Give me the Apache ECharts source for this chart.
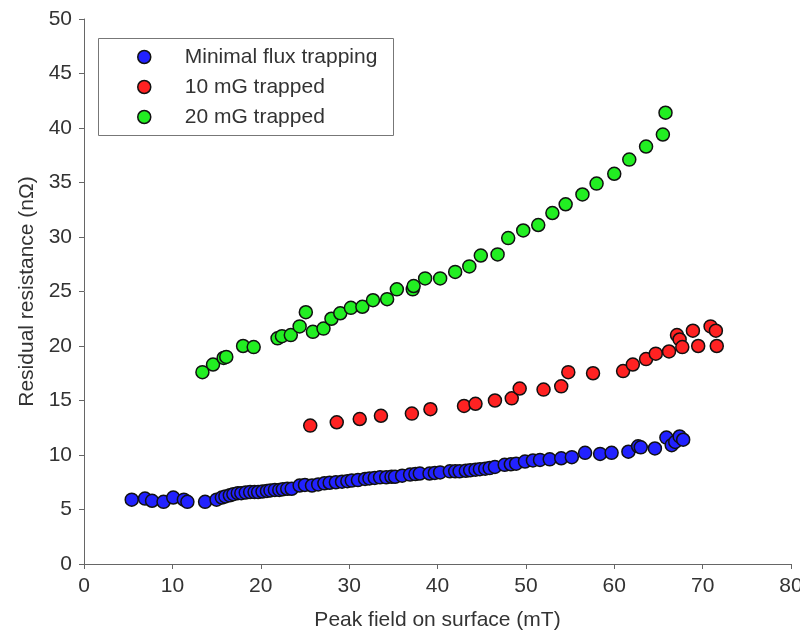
<!DOCTYPE html>
<html>
<head>
<meta charset="utf-8">
<script src="https://cdn.jsdelivr.net/npm/echarts@6/dist/echarts.min.js"></script>
<style>
  html, body { margin: 0; padding: 0; background: #fff; }
  #chart { width: 800px; height: 633px; }
</style>
</head>
<body>
<div id="chart"></div>
<script>
// values: [peak field (mT), residual resistance (nOhm)]
const minimalFlux = [
  [5.4, 5.9], [6.9, 6.0], [7.7, 5.8], [9.0, 5.7], [10.1, 6.1], [11.3, 5.9], [11.7, 5.7],
  [13.7, 5.7], [15.0, 5.9], [15.6, 6.1], [16.0, 6.2], [16.5, 6.3], [16.9, 6.4], [17.4, 6.5],
  [17.8, 6.5], [18.3, 6.55], [18.8, 6.6], [19.3, 6.6], [19.7, 6.6], [20.2, 6.65], [20.7, 6.7],
  [21.1, 6.75], [21.6, 6.8], [22.1, 6.8], [22.5, 6.85], [23.0, 6.9], [23.5, 6.9], [24.4, 7.2],
  [25.0, 7.25], [25.8, 7.2], [26.5, 7.3], [27.2, 7.4], [27.8, 7.45], [28.5, 7.5], [29.2, 7.55],
  [29.8, 7.6], [30.3, 7.65], [31.0, 7.7], [31.8, 7.8], [32.3, 7.85], [32.9, 7.9], [33.5, 7.95],
  [34.2, 7.95], [34.8, 8.0], [35.2, 8.0], [36.0, 8.1], [36.9, 8.2], [37.5, 8.25], [38.0, 8.3],
  [39.1, 8.3], [39.7, 8.35], [40.3, 8.4], [41.4, 8.5], [42.0, 8.5], [42.5, 8.5], [43.2, 8.55],
  [43.7, 8.6], [44.3, 8.65], [44.8, 8.7], [45.4, 8.75], [45.9, 8.8], [46.5, 8.9], [47.6, 9.1],
  [48.3, 9.15], [48.9, 9.2], [49.9, 9.4], [50.8, 9.5], [51.6, 9.55], [52.7, 9.6], [54.0, 9.7],
  [55.2, 9.8], [56.7, 10.2], [58.4, 10.1], [59.7, 10.2], [61.6, 10.3], [62.7, 10.8], [63.0, 10.7],
  [64.6, 10.6], [65.9, 11.6], [66.5, 10.9], [66.9, 11.2], [67.4, 11.7], [67.8, 11.4]
]

const trapped10 = [
  [25.6, 12.7], [28.6, 13.0], [31.2, 13.3], [33.6, 13.6], [37.1, 13.8], [39.2, 14.2],
  [43.0, 14.5], [44.3, 14.7], [46.5, 15.0], [48.4, 15.2], [49.3, 16.1], [52.0, 16.0],
  [54.0, 16.3], [54.8, 17.6], [57.6, 17.5], [61.0, 17.7], [62.1, 18.3], [63.6, 18.8],
  [64.7, 19.3], [66.2, 19.5], [67.1, 21.0], [67.4, 20.6], [67.7, 19.9], [68.9, 21.4],
  [69.5, 20.0], [70.9, 21.8], [71.5, 21.4], [71.6, 20.0]
]

const trapped20 = [
  [13.4, 17.6], [14.6, 18.3], [15.8, 18.9], [16.1, 19.0], [18.0, 20.0], [19.2, 19.9],
  [21.9, 20.7], [22.4, 20.9], [23.4, 21.0], [24.4, 21.8], [25.1, 23.1], [25.9, 21.3],
  [27.1, 21.6], [28.0, 22.5], [29.0, 23.0], [30.2, 23.5], [31.5, 23.6], [32.7, 24.2],
  [34.3, 24.3], [35.4, 25.2], [37.2, 25.2], [37.3, 25.5], [38.6, 26.2], [40.3, 26.2],
  [42.0, 26.8], [43.6, 27.3], [44.9, 28.3], [46.8, 28.4], [48.0, 29.9], [49.7, 30.6],
  [51.4, 31.1], [53.0, 32.2], [54.5, 33.0], [56.4, 33.9], [58.0, 34.9], [60.0, 35.8],
  [61.7, 37.1], [63.6, 38.3], [65.5, 39.4], [65.8, 41.4]
]

const seriesNames = ['Minimal flux trapping', '10 mG trapped', '20 mG trapped']
const seriesColors = ['#2222ff', '#ff2222', '#22ee22']

const FONT = 'Liberation Sans, Arial, sans-serif'
const chart = echarts.init(document.getElementById('chart'), null, { renderer: 'canvas' })

function dots(name, data, color) {
  return {
    name: name,
    type: 'scatter',
    data: data,
    symbol: 'circle',
    symbolSize: 13,
    itemStyle: { color: color, opacity: 1, borderColor: '#111', borderWidth: 1.5 },
    emphasis: { disabled: true },
    animation: false
  }
}

function axisStyle(labelMargin) {
  return {
    axisLine: { lineStyle: { color: '#666', width: 1 } },
    axisTick: { inside: false, length: 5, lineStyle: { color: '#666' } },
    splitLine: { show: false },
    axisLabel: { color: '#333', fontSize: 21, fontFamily: FONT, margin: labelMargin },
    nameTextStyle: { color: '#333', fontSize: 21, fontFamily: FONT }
  }
}

chart.setOption({
  backgroundColor: '#fff',
  animation: false,
  grid: { left: 84, right: 9, top: 19, bottom: 69, containLabel: false, outerBoundsMode: 'none' },
  graphic: [{
    type: 'rect',
    shape: { x: 98.5, y: 38.5, width: 295, height: 97 },
    style: { fill: '#fff', stroke: '#777', lineWidth: 1 },
    z: 1
  }],
  legend: {
    data: seriesNames,
    orient: 'vertical',
    left: 137,
    top: 45,
    itemWidth: 13,
    itemHeight: 13,
    itemGap: 6,
    padding: 0,
    itemStyle: { opacity: 1, borderColor: '#111', borderWidth: 1.5 },
    textStyle: { color: '#333', fontSize: 21, fontFamily: FONT, lineHeight: 24, padding: [0, 0, 0, 29] },
    z: 5
  },
  xAxis: Object.assign({
    type: 'value',
    min: 0, max: 80, interval: 10,
    name: 'Peak field on surface (mT)',
    nameLocation: 'middle',
    nameGap: 46
  }, axisStyle(12)),
  yAxis: Object.assign({
    type: 'value',
    min: 0, max: 50, interval: 5,
    name: 'Residual resistance (n\u03A9)',
    nameLocation: 'middle',
    nameGap: 46
  }, axisStyle(12)),
  series: [
    dots(seriesNames[0], minimalFlux, seriesColors[0]),
    dots(seriesNames[1], trapped10, seriesColors[1]),
    dots(seriesNames[2], trapped20, seriesColors[2])
  ]
})
</script>
</body>
</html>
